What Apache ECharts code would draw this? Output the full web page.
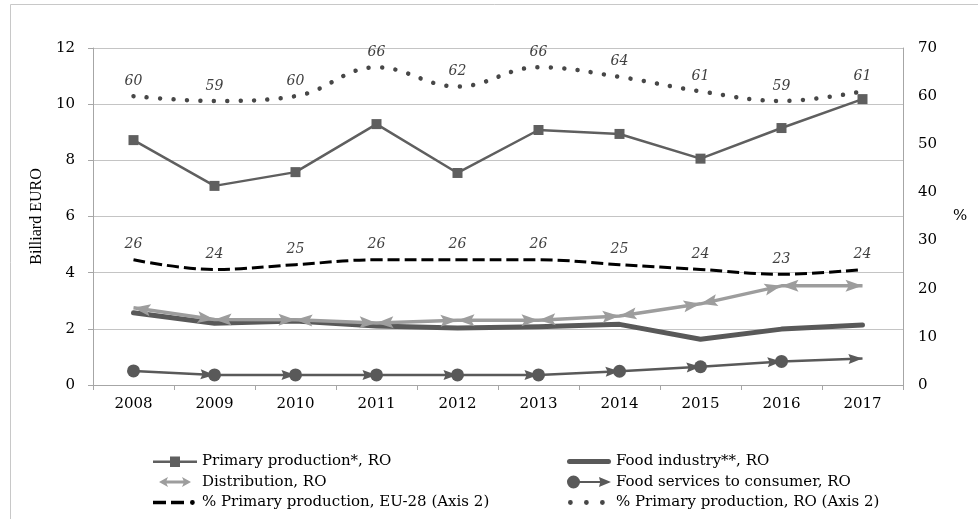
<!DOCTYPE html>
<html>
<head>
<meta charset="utf-8">
<title>Romania agri-food chain value</title>
<script src="https://cdn.jsdelivr.net/npm/echarts@6/dist/echarts.min.js"></script>
<style>
  html, body { margin: 0; padding: 0; background: #fff; }
  #chart { width: 978px; height: 519px; }
</style>
</head>
<body>
<div id="chart"></div>
<script>
// Years on the category axis
const years = ['2008', '2009', '2010', '2011', '2012', '2013', '2014', '2015', '2016', '2017'];

// Billion EURO (left axis)
const primaryProduction = [8.72, 7.09, 7.58, 9.29, 7.55, 9.08, 8.94, 8.06, 9.15, 10.18];
const foodIndustry      = [2.57, 2.20, 2.28, 2.10, 2.03, 2.07, 2.16, 1.63, 1.99, 2.14];
const distribution      = [2.75, 2.33, 2.32, 2.21, 2.31, 2.31, 2.46, 2.89, 3.53, 3.53];
const foodServices      = [0.50, 0.36, 0.36, 0.36, 0.36, 0.36, 0.49, 0.65, 0.84, 0.94];

// Share of primary production, % (right axis)
const shareEU28 = [26, 24, 25, 26, 26, 26, 25, 24, 23, 24];
const shareRO   = [60, 59, 60, 66, 62, 66, 64, 61, 59, 61];

// Axis ticks
const leftTicks  = { min: 0, max: 12, interval: 2 };
const rightTicks = { min: 0, max: 70, interval: 10 };

const SERIF = '"DejaVu Serif", serif';
const SERIF_NARROW = '"Liberation Serif", "Times New Roman", serif';

const chart = echarts.init(document.getElementById('chart'), null, { renderer: 'canvas' });

// Arrowhead polygon with its tip on `tip`, pointing away from `from`
function arrowHead(tip, from, len, half, notch) {
  const dx = tip[0] - from[0], dy = tip[1] - from[1];
  const d = Math.hypot(dx, dy) || 1;
  const ux = dx / d, uy = dy / d;
  const nx = -uy, ny = ux;
  const bx = tip[0] - ux * len, by = tip[1] - uy * len;
  const cx = tip[0] - ux * len * notch, cy = tip[1] - uy * len * notch;
  return [
    [tip[0], tip[1]],
    [bx + nx * half, by + ny * half],
    [cx, cy],
    [bx - nx * half, by - ny * half]
  ];
}

// Distribution: every segment carries an arrowhead at both ends
function renderDistributionMarks(params, api) {
  const i = params.dataIndex;
  const p = api.coord([i, distribution[i]]);
  const children = [];
  const style = { fill: '#9d9d9d' };
  if (i > 0) {
    const prev = api.coord([i - 1, distribution[i - 1]]);
    children.push({ type: 'polygon', shape: { points: arrowHead(p, prev, 17, 6, 0.8) }, style });
  }
  if (i < distribution.length - 1) {
    const next = api.coord([i + 1, distribution[i + 1]]);
    children.push({ type: 'polygon', shape: { points: arrowHead(p, next, 17, 6, 0.8) }, style });
  }
  return { type: 'group', children };
}

// Food services: oval at the start of each segment, arrowhead at its end
function renderServicesMarks(params, api) {
  const i = params.dataIndex;
  const p = api.coord([i, foodServices[i]]);
  const children = [];
  const style = { fill: '#595959' };
  if (i > 0) {
    const prev = api.coord([i - 1, foodServices[i - 1]]);
    children.push({ type: 'polygon', shape: { points: arrowHead(p, prev, 14, 5, 0.85) }, style });
  }
  if (i < foodServices.length - 1) {
    children.push({ type: 'circle', shape: { cx: p[0], cy: p[1], r: 6.5 }, style });
  }
  return { type: 'group', children };
}

const labelStyle = {
  show: true,
  position: 'top',
  distance: 8,
  fontFamily: SERIF,
  fontStyle: 'italic',
  fontSize: 14,
  color: '#404040',
  formatter: p => String(p.value)
};

const axisGray = '#a6a6a6';

// Legend glyphs drawn in a 44 x 14 box (the leading moves pin the box size)
const BOX = 'M0,0 M44,14 ';
const icons = {
  primary:  'path://' + BOX + 'M0,6 L17,6 L17,2 L27,2 L27,6 L44,6 L44,8.5 L27,8.5 L27,12.5 L17,12.5 L17,8.5 L0,8.5 Z',
  industry: 'path://' + BOX + 'M2.5,4.5 L41.5,4.5 A2.5,2.5 0 0,1 41.5,9.5 L2.5,9.5 A2.5,2.5 0 0,1 2.5,4.5 Z',
  distrib:  'path://' + BOX + 'M6,7 L15,2 L13.5,5.5 L30.5,5.5 L29,2 L38,7 L29,12 L30.5,8.5 L13.5,8.5 L15,12 Z',
  services: 'path://' + BOX + 'M0,7 A6.5,6.5 0 1,1 13,7 A6.5,6.5 0 1,1 0,7 Z M11,6 L33,6 L32,2 L44,7 L32,12 L33,8 L11,8 Z',
  eu28:     'path://' + BOX + 'M0,5.3 L13,5.3 L13,8.7 L0,8.7 Z M18,5.3 L31,5.3 L31,8.7 L18,8.7 Z M37,7 A2.4,2.4 0 1,1 41.8,7 A2.4,2.4 0 1,1 37,7 Z',
  ro:       'path://' + BOX + 'M1,7 A2.4,2.4 0 1,1 5.8,7 A2.4,2.4 0 1,1 1,7 Z M17,7 A2.4,2.4 0 1,1 21.8,7 A2.4,2.4 0 1,1 17,7 Z M33,7 A2.4,2.4 0 1,1 37.8,7 A2.4,2.4 0 1,1 33,7 Z'
};

const legendBase = {
  orient: 'vertical',
  top: 454,
  padding: 0,
  itemGap: 5.5,
  itemWidth: 44,
  itemHeight: 14,
  textStyle: { fontFamily: SERIF, fontSize: 15, lineHeight: 15, color: '#000' }
};

// Line series keep a zero-size symbol so their value labels are drawn
const hiddenSymbol = { symbol: 'circle', symbolSize: 0.1, showSymbol: true };

chart.setOption({
  animation: false,
  backgroundColor: '#ffffff',
  textStyle: { fontFamily: SERIF },
  graphic: [{
    type: 'rect',
    shape: { x: 10.5, y: 4.5, width: 1100, height: 700 },
    style: { fill: 'none', stroke: '#c8c8c8', lineWidth: 1 },
    silent: true
  }],
  grid: { left: 93, right: 75, top: 48, bottom: 134, containLabel: false },
  legend: [
    Object.assign({}, legendBase, {
      left: 153,
      data: [
        { name: 'Primary production*, RO', icon: icons.primary },
        { name: 'Distribution, RO', icon: icons.distrib },
        { name: '% Primary production, EU-28 (Axis 2)', icon: icons.eu28 }
      ]
    }),
    Object.assign({}, legendBase, {
      left: 567,
      data: [
        { name: 'Food industry**, RO', icon: icons.industry },
        { name: 'Food services to consumer, RO', icon: icons.services },
        { name: '% Primary production, RO (Axis 2)', icon: icons.ro }
      ]
    })
  ],
  xAxis: {
    type: 'category',
    data: years,
    boundaryGap: true,
    axisLine: { show: true, lineStyle: { color: axisGray, width: 1 } },
    axisTick: { show: true, length: 5, lineStyle: { color: axisGray } },
    axisLabel: { fontFamily: SERIF, fontSize: 15, color: '#000', margin: 12 },
    splitLine: { show: false }
  },
  yAxis: [
    {
      type: 'value',
      position: 'left',
      min: leftTicks.min,
      max: leftTicks.max,
      interval: leftTicks.interval,
      name: 'Billiard EURO',
      nameLocation: 'middle',
      nameGap: 44,
      nameRotate: 90,
      nameTextStyle: { fontFamily: SERIF_NARROW, fontSize: 16, color: '#000' },
      axisLine: { show: true, lineStyle: { color: axisGray, width: 1 } },
      axisTick: { show: true, length: 5, lineStyle: { color: axisGray } },
      axisLabel: { fontFamily: SERIF, fontSize: 15, color: '#000', margin: 18 },
      splitLine: { show: true, lineStyle: { color: '#c4c4c4', width: 1 } }
    },
    {
      type: 'value',
      position: 'right',
      min: rightTicks.min,
      max: rightTicks.max,
      interval: rightTicks.interval,
      name: '%',
      nameLocation: 'middle',
      nameGap: 50,
      nameRotate: 0,
      nameTextStyle: { fontFamily: SERIF, fontSize: 15, color: '#000' },
      axisLine: { show: true, lineStyle: { color: axisGray, width: 1 } },
      axisTick: { show: false },
      axisLabel: { fontFamily: SERIF, fontSize: 15, color: '#000', margin: 15 },
      splitLine: { show: false }
    }
  ],
  series: [
    Object.assign({
      name: '% Primary production, RO (Axis 2)',
      type: 'line',
      yAxisIndex: 1,
      data: shareRO,
      smooth: 0.4,
      color: '#474747',
      itemStyle: { color: '#474747' },
      lineStyle: { color: '#474747', width: 4.5, type: [0.01, 13.4], cap: 'round' },
      label: labelStyle,
      z: 3
    }, hiddenSymbol),
    Object.assign({
      name: '% Primary production, EU-28 (Axis 2)',
      type: 'line',
      yAxisIndex: 1,
      data: shareEU28,
      smooth: 0.4,
      color: '#000000',
      itemStyle: { color: '#000000' },
      lineStyle: { color: '#000000', width: 3, type: [12, 5] },
      label: labelStyle,
      z: 3
    }, hiddenSymbol),
    {
      name: 'Primary production*, RO',
      type: 'line',
      data: primaryProduction,
      symbol: 'rect',
      symbolSize: 10,
      color: '#5f5f5f',
      itemStyle: { color: '#5f5f5f' },
      lineStyle: { color: '#5f5f5f', width: 2.5 },
      z: 3
    },
    {
      name: 'Food industry**, RO',
      type: 'line',
      data: foodIndustry,
      symbol: 'none',
      color: '#595959',
      itemStyle: { color: '#595959' },
      lineStyle: { color: '#595959', width: 5, cap: 'round', join: 'round' },
      z: 2
    },
    {
      name: 'Distribution, RO',
      type: 'line',
      data: distribution,
      symbol: 'none',
      color: '#9d9d9d',
      itemStyle: { color: '#9d9d9d' },
      lineStyle: { color: '#9d9d9d', width: 3.5 },
      z: 3
    },
    {
      name: 'Distribution marks',
      type: 'custom',
      coordinateSystem: 'cartesian2d',
      data: distribution.map((v, i) => [i, v]),
      encode: { x: 0, y: 1 },
      renderItem: renderDistributionMarks,
      silent: true,
      z: 4
    },
    {
      name: 'Food services to consumer, RO',
      type: 'line',
      data: foodServices,
      symbol: 'none',
      color: '#595959',
      itemStyle: { color: '#595959' },
      lineStyle: { color: '#595959', width: 2.5 },
      z: 3
    },
    {
      name: 'Food services marks',
      type: 'custom',
      coordinateSystem: 'cartesian2d',
      data: foodServices.map((v, i) => [i, v]),
      encode: { x: 0, y: 1 },
      renderItem: renderServicesMarks,
      silent: true,
      z: 4
    }
  ]
});
</script>
</body>
</html>
